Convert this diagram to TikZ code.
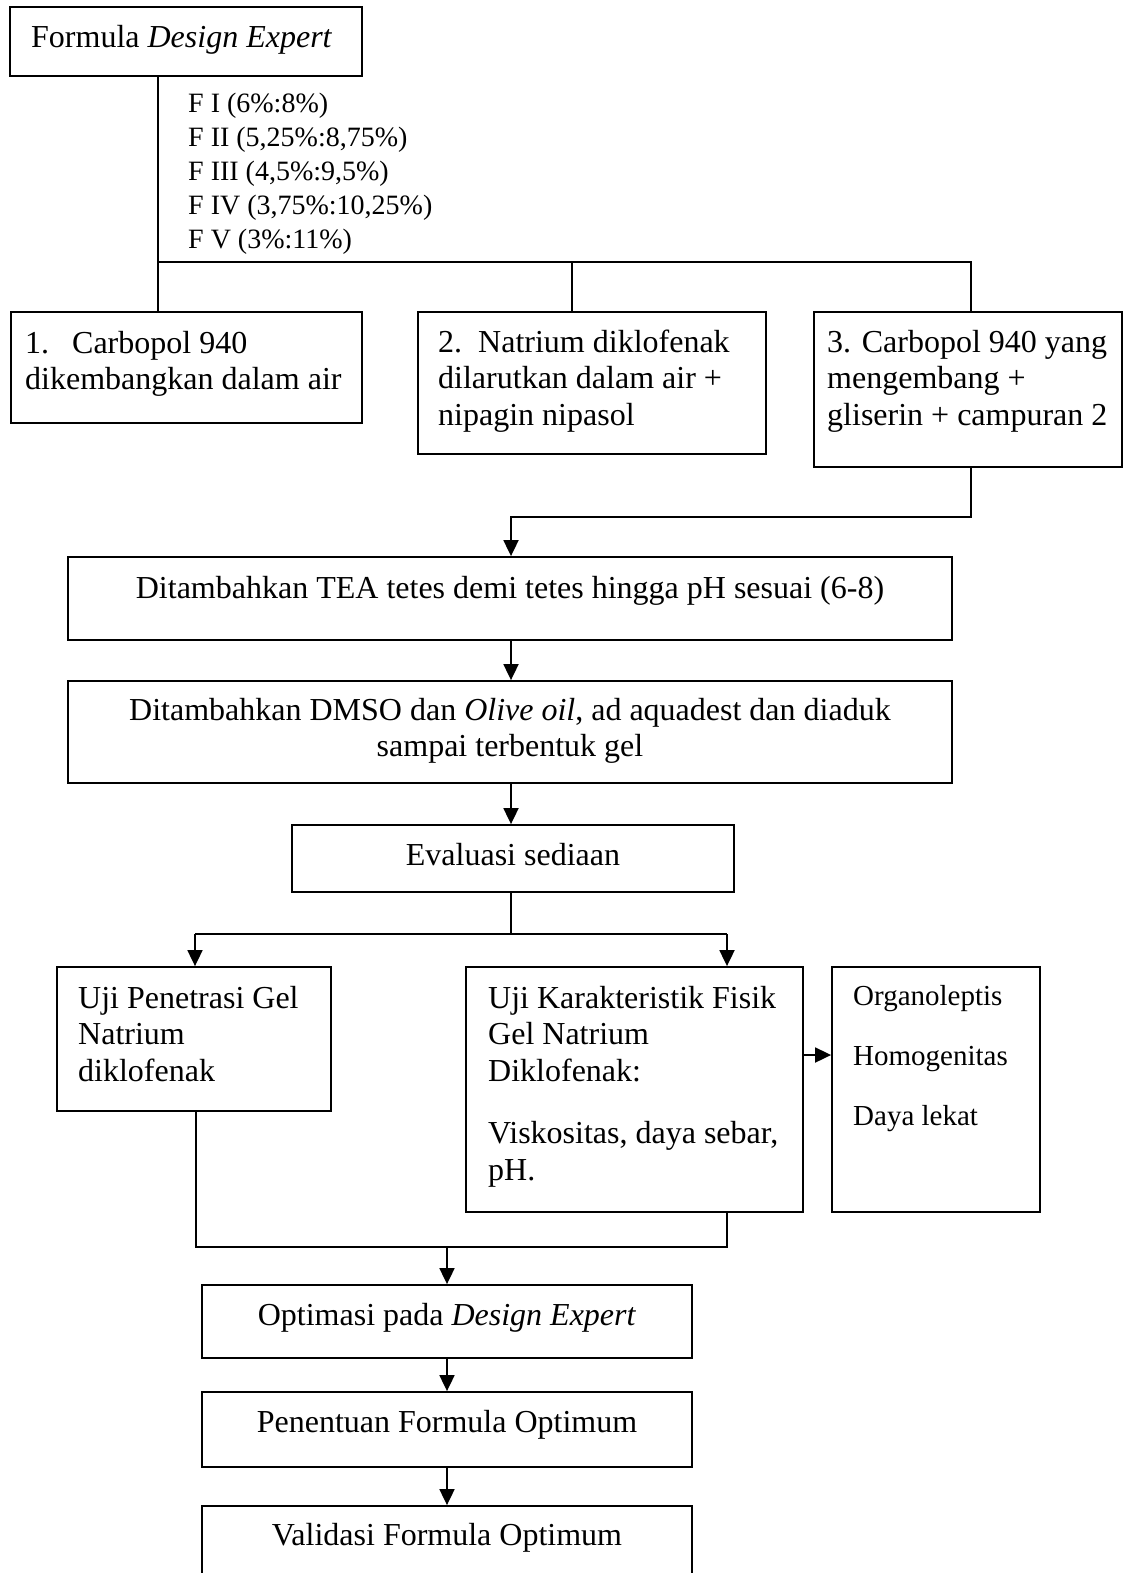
\documentclass[tikz,border=0pt]{standalone}
\usepackage{fontspec}
\setmainfont{Liberation Serif}
\usetikzlibrary{arrows.meta}
\newcommand\mainsz{\fontsize{32}{36.5}\selectfont}
\newcommand\listsz{\fontsize{28}{33.8}\selectfont}
\newcommand\smallsz{\fontsize{29}{60}\selectfont}
\begin{document}
\begin{tikzpicture}[x=1pt,y=-1pt,
  box/.style={draw, line width=1.8pt, inner sep=0pt},
  txt/.style={inner sep=0pt, align=left, font=\mainsz},
  ctxt/.style={inner sep=0pt, align=center, font=\mainsz},
  ln/.style={line width=1.8pt},
  arr/.style={line width=1.8pt, -{Triangle[length=16pt,width=15pt]}}]
\useasboundingbox (0,0) rectangle (1125,1573);
% boxes
\node[box, minimum width=352pt, minimum height=69pt] (A) at (186,41.5) {};
\node[box, minimum width=351pt, minimum height=111pt] (B1) at (186.5,367.5) {};
\node[box, minimum width=348pt, minimum height=142pt] (B2) at (592,383) {};
\node[box, minimum width=308pt, minimum height=155pt] (B3) at (968,389.5) {};
\node[box, minimum width=884pt, minimum height=83pt] (B4) at (510,598.5) {};
\node[box, minimum width=884pt, minimum height=102pt] (B5) at (510,732) {};
\node[box, minimum width=442pt, minimum height=67pt] (B6) at (513,858.5) {};
\node[box, minimum width=274pt, minimum height=144pt] (B7) at (194,1039) {};
\node[box, minimum width=337pt, minimum height=245pt] (B8) at (634.5,1089.5) {};
\node[box, minimum width=208pt, minimum height=245pt] (B9) at (936,1089.5) {};
\node[box, minimum width=490pt, minimum height=73pt] (B10) at (447,1321.5) {};
\node[box, minimum width=490pt, minimum height=75pt] (B11) at (447,1429.5) {};
\node[box, minimum width=490pt, minimum height=94pt] (B12) at (447,1553) {};
% texts (anchor = baseline of the last line)
\node[txt, anchor=base west] (tA) at (31,48) {Formula \textit{Design Expert}};
\node[txt, font=\listsz, anchor=base west] (tL) at (188,248) {F I (6\%:8\%)\\F II (5,25\%:8,75\%)\\F III (4,5\%:9,5\%)\\F IV (3,75\%:10,25\%)\\F V (3\%:11\%)};
\node[txt, anchor=base west] (t1) at (25,389.5) {\makebox[47pt][l]{1.}Carbopol 940\\dikembangkan dalam air};
\node[txt, anchor=base west] (t2) at (438,425) {\makebox[40pt][l]{2.}Natrium diklofenak\\dilarutkan dalam air +\\nipagin nipasol};
\node[txt, anchor=base west] (t3) at (827,425) {3. Carbopol 940 yang\\mengembang +\\gliserin + campuran 2};
\node[ctxt, anchor=base] (t4) at (510,598) {Ditambahkan TEA tetes demi tetes hingga pH sesuai (6-8)};
\node[ctxt, anchor=base] (t5) at (510,756.5) {Ditambahkan DMSO dan \textit{Olive oil}, ad aquadest dan diaduk\\sampai terbentuk gel};
\node[ctxt, anchor=base] (t6) at (513,865) {Evaluasi sediaan};
\node[txt, anchor=base west] (t7) at (78,1081) {Uji Penetrasi Gel\\Natrium\\diklofenak};
\node[txt, anchor=base west] (t8) at (488,1180) {Uji Karakteristik Fisik\\Gel Natrium\\Diklofenak:\\[26pt]Viskositas, daya sebar,\\pH.};
\node[txt, font=\smallsz, anchor=base west] (t9) at (853,1125) {Organoleptis\\Homogenitas\\Daya lekat};
\node[ctxt, anchor=base] (t10) at (447,1325) {Optimasi pada \textit{Design Expert}};
\node[ctxt, anchor=base] (t11) at (447,1432) {Penentuan Formula Optimum};
\node[ctxt, anchor=base] (t12) at (447,1545) {Validasi Formula Optimum};
% junction coordinates
\coordinate (j1) at (158,262);
\coordinate (c2) at (572,262);
\coordinate (c3) at (971,262);
\coordinate (k) at (511,517);
\coordinate (l7) at (195,934);
\coordinate (m) at (511,934);
\coordinate (l8) at (727,934);
\coordinate (h) at (0,1055);
\coordinate (n7) at (196,1247);
\coordinate (n8) at (727,1247);
\coordinate (nc) at (447,1247);
% connectors
\draw[ln] (A.south -| j1) -- (B1.north -| j1);
\draw[ln] (j1) -- (c3) -- (B3.north -| c3);
\draw[ln] (c2) -- (B2.north -| c2);
\draw[arr] (B3.south -| c3) |- (k) -- (B4.north -| k);
\draw[arr] (B4.south -| k) -- (B5.north -| k);
\draw[arr] (B5.south -| k) -- (B6.north -| k);
\draw[ln] (B6.south -| m) -- (m);
\draw[ln] (l7) -- (l8);
\draw[arr] (l7) -- (B7.north -| l7);
\draw[arr] (l8) -- (B8.north -| l8);
\draw[arr] (B8.east |- h) -- (B9.west |- h);
\draw[ln] (B7.south -| n7) -- (n7) -- (n8) -- (B8.south -| n8);
\draw[arr] (nc) -- (B10.north);
\draw[arr] (B10.south) -- (B11.north);
\draw[arr] (B11.south) -- (B12.north);
\end{tikzpicture}
\end{document}
